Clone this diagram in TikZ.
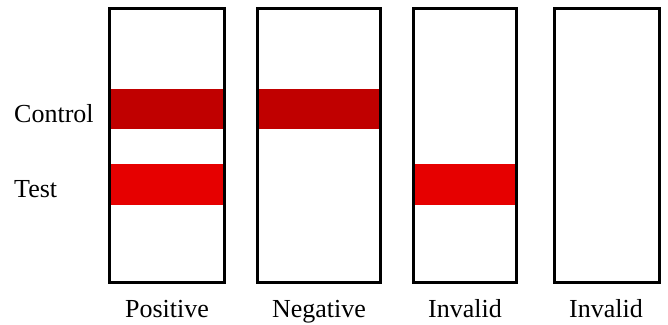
\documentclass[tikz,border=0pt]{standalone}
\usepackage{fontspec}
\setmainfont{Liberation Serif}
\definecolor{ctrlred}{RGB}{192,0,0}
\definecolor{testred}{RGB}{230,0,0}
\begin{document}
\begin{tikzpicture}[x=1pt,y=-1pt,
  strip/.style={draw=black,line width=3pt},
  lbl/.style={font=\fontsize{26}{26}\selectfont,anchor=base,inner sep=0pt},
  sidelbl/.style={font=\fontsize{26}{26}\selectfont,anchor=base west,inner sep=0pt}]
\useasboundingbox (0,0) rectangle (668,324);
% red bands
\fill[ctrlred] (109.7,89) rectangle (224,128.7);
\fill[testred] (109.7,164) rectangle (224,204.7);
\fill[ctrlred] (257.2,89) rectangle (380.8,128.7);
\fill[testred] (413.2,164) rectangle (516.8,204.7);
% strip outlines
\draw[strip] (109.7,8.2) rectangle (224,282.5);
\draw[strip] (257.2,8.2) rectangle (380.8,282.5);
\draw[strip] (413.2,8.2) rectangle (516.8,282.5);
\draw[strip] (554.2,8.2) rectangle (659.5,282.5);
% labels
\node[sidelbl] (control) at (14,122.3) {Control};
\node[sidelbl] (test) at (14,197.3) {Test};
\node[lbl] (pos) at (167,317) {Positive};
\node[lbl] (neg) at (319,317) {Negative};
\node[lbl] (inv1) at (465,317) {Invalid};
\node[lbl] (inv2) at (606,317) {Invalid};
\end{tikzpicture}
\end{document}
